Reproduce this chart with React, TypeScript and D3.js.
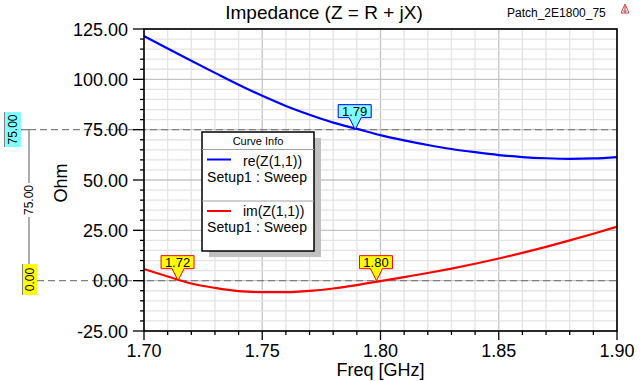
import React from "react";
import * as d3 from "d3";

const freqs = [1.7, 1.71, 1.72, 1.73, 1.74, 1.75, 1.76, 1.77, 1.78, 1.79, 1.8, 1.81, 1.82, 1.83, 1.84, 1.85, 1.86, 1.87, 1.88, 1.89, 1.9];
const reZ = [121.5, 115.3, 109.2, 103.2, 97.3, 91.8, 86.8, 82.4, 78.5, 75.4, 72.3, 69.7, 67.4, 65.4, 63.8, 62.4, 61.4, 60.8, 60.5, 60.7, 61.4];
const imZ = [5.8, 2.1, -1.4, -3.6, -5.2, -5.7, -5.7, -5.1, -3.9, -2.2, -0.2, 1.8, 3.8, 6.0, 8.4, 11.0, 13.8, 16.8, 20.0, 23.3, 26.8];

const xTicks = [1.7, 1.75, 1.8, 1.85, 1.9];
const yTicks = [-25, 0, 25, 50, 75, 100, 125];

const markers = [
  { label: "1.72", freq: 1.7144, value: 0, fill: "#ffff00", stroke: "#ff0000" },
  { label: "1.80", freq: 1.7983, value: 0, fill: "#ffff00", stroke: "#ff0000" },
  { label: "1.79", freq: 1.7893, value: 75, fill: "#80ffff", stroke: "#0000ff" },
];

const FONT = "'Liberation Sans', Arial, Helvetica, sans-serif";

export default function App() {
  const L = 144, R = 617, T = 29, B = 331;
  const x = d3.scaleLinear().domain([1.7, 1.9]).range([L, R]);
  const y = d3.scaleLinear().domain([-25, 125]).range([B, T]);

  const minorX = d3.range(0, 21).map((i) => 1.7 + i * 0.01);
  const minorY = d3.range(0, 31).map((i) => -25 + i * 5);

  const line = d3
    .line<number>()
    .x((_, i) => x(freqs[i]))
    .y((d) => y(d))
    .curve(d3.curveMonotoneX);

  const legX = 202, legY = 132, legW = 112, legH = 119;

  return (
    <svg width={642} height={381} style={{ position: "absolute", left: 0, top: 0, background: "#fff" }} fontFamily={FONT}>
      <defs>
        <clipPath id="plot">
          <rect x={L} y={T} width={R - L} height={B - T} />
        </clipPath>
      </defs>
      <rect x={0} y={0} width={642} height={381} fill="#fff" />
      {/* grid */}
      {minorX.map((f, i) => (
        <line key={"gx" + i} x1={x(f)} x2={x(f)} y1={T} y2={B} stroke={i % 5 === 0 ? "#c4c4c4" : "#e4e4e4"} strokeWidth={1.3} />
      ))}
      {minorY.map((v, i) => (
        <line key={"gy" + i} x1={L} x2={R} y1={y(v)} y2={y(v)} stroke={i % 5 === 0 ? "#c4c4c4" : "#e4e4e4"} strokeWidth={1.3} />
      ))}

      {/* reference dashed lines and left markers */}
      <line x1={21} x2={29} y1={y(75)} y2={y(75)} stroke="#808080" strokeWidth={1.3} />
      <line x1={29} x2={R} y1={y(75)} y2={y(75)} stroke="#808080" strokeWidth={1.3} strokeDasharray="7,4" />
      <line x1={37} x2={R} y1={y(0)} y2={y(0)} stroke="#808080" strokeWidth={1.3} strokeDasharray="7,4" />
      <line x1={29} x2={29} y1={y(75)} y2={264} stroke="#808080" strokeWidth={1.3} />
      <rect x={22} y={183} width={14} height={34} fill="#fff" />
      <text transform={`translate(33,200) rotate(-90)`} textAnchor="middle" fontSize={12} fill="#000">75.00</text>

      <rect x={4} y={112} width={17} height={35} fill="#80ffff" />
      <line x1={4.5} x2={4.5} y1={112} y2={147} stroke="#808080" strokeWidth={1} />
      <text transform={`translate(17,129.5) rotate(-90)`} textAnchor="middle" fontSize={12} fill="#000">75.00</text>
      <rect x={22} y={264} width={15} height={31} fill="#ffff00" />
      <line x1={22.5} x2={22.5} y1={264} y2={295} stroke="#808080" strokeWidth={1} />
      <text transform={`translate(34,279.5) rotate(-90)`} textAnchor="middle" fontSize={12} fill="#000">0.00</text>

      {/* curves */}
      <g clipPath="url(#plot)">
        <path d={line(reZ) || ""} fill="none" stroke="#0000ff" strokeWidth={2.2} />
        <path d={line(imZ) || ""} fill="none" stroke="#ff0000" strokeWidth={2.2} />
      </g>

      {/* frame */}
      <rect x={L} y={T} width={R - L} height={B - T} fill="none" stroke="#000" strokeWidth={1.6} />

      {/* y ticks */}
      {minorY.map((v, i) => (
        <line key={"ty" + i} x1={i % 5 === 0 ? L - 11 : L - 4} x2={L} y1={y(v)} y2={y(v)} stroke="#000" strokeWidth={1.3} />
      ))}
      {yTicks.map((v) => (
        <text key={"ly" + v} x={128} y={y(v) + 6.5} textAnchor="end" fontSize={18} fill="#000">
          {v.toFixed(2)}
        </text>
      ))}
      {/* x ticks */}
      {minorX.map((f, i) => (
        <line key={"tx" + i} x1={x(f)} x2={x(f)} y1={B} y2={i % 5 === 0 ? B + 9 : B + 4} stroke="#000" strokeWidth={1.3} />
      ))}
      {xTicks.map((f) => (
        <text key={"lx" + f} x={x(f)} y={357} textAnchor="middle" fontSize={18} fill="#000">
          {f.toFixed(2)}
        </text>
      ))}

      {/* axis titles */}
      <text x={(L + R) / 2} y={376} textAnchor="middle" fontSize={18} fill="#000">Freq [GHz]</text>
      <text transform={`translate(67,183) rotate(-90)`} textAnchor="middle" fontSize={18} fill="#000">Ohm</text>
      <text x={324} y={18.5} textAnchor="middle" fontSize={19} fill="#000">Impedance (Z = R + jX)</text>
      <text x={507} y={17} fontSize={12} fill="#000">Patch_2E1800_75</text>
      <g>
        <path d="M621,13 L625,4 L629,13 Z" fill="none" stroke="#e04040" strokeWidth={1} />
        <line x1={625} x2={625} y1={6} y2={13} stroke="#c03030" strokeWidth={1} />
        <line x1={623} x2={627} y1={11} y2={11} stroke="#808080" strokeWidth={1} />
      </g>

      {/* markers */}
      {markers.map((m) => {
        const tx = x(m.freq), ty = y(m.value);
        const bw = 33, bh = 13;
        const bx = tx - 17, by = ty - 25;
        return (
          <g key={m.label}>
            <path
              d={`M${bx},${by} L${bx + bw},${by} L${bx + bw},${by + bh} L${tx + 6},${by + bh} L${tx},${ty} L${tx - 6},${by + bh} L${bx},${by + bh} Z`}
              fill={m.fill}
              stroke={m.stroke}
              strokeWidth={1}
            />
            <text x={bx + bw / 2} y={by + 11.5} textAnchor="middle" fontSize={13} fill="#000">{m.label}</text>
          </g>
        );
      })}

      {/* legend */}
      <rect x={legX + 7} y={legY + 6} width={legW} height={legH} fill="#c0c0c0" />
      <rect x={legX} y={legY} width={legW} height={legH} fill="#fff" stroke="#000" strokeWidth={1.5} />
      <text x={legX + legW / 2} y={legY + 13} textAnchor="middle" fontSize={11} fill="#000">Curve Info</text>
      <line x1={legX} x2={legX + legW} y1={legY + 17.5} y2={legY + 17.5} stroke="#a0a0a0" strokeWidth={1} />
      <line x1={legX + 5} x2={legX + 29} y1={159.5} y2={159.5} stroke="#0000ff" strokeWidth={2} />
      <text x={243} y={165.5} fontSize={14} fill="#000">re(Z(1,1))</text>
      <text x={207} y={181.5} fontSize={14} textLength={100} fill="#000">Setup1 : Sweep</text>
      <line x1={legX} x2={legX + legW} y1={201} y2={201} stroke="#a0a0a0" strokeWidth={1} />
      <line x1={legX + 5} x2={legX + 29} y1={211} y2={211} stroke="#ff0000" strokeWidth={2} />
      <text x={243} y={215.5} fontSize={14} fill="#000">im(Z(1,1))</text>
      <text x={207} y={231.5} fontSize={14} textLength={100} fill="#000">Setup1 : Sweep</text>
    </svg>
  );
}
